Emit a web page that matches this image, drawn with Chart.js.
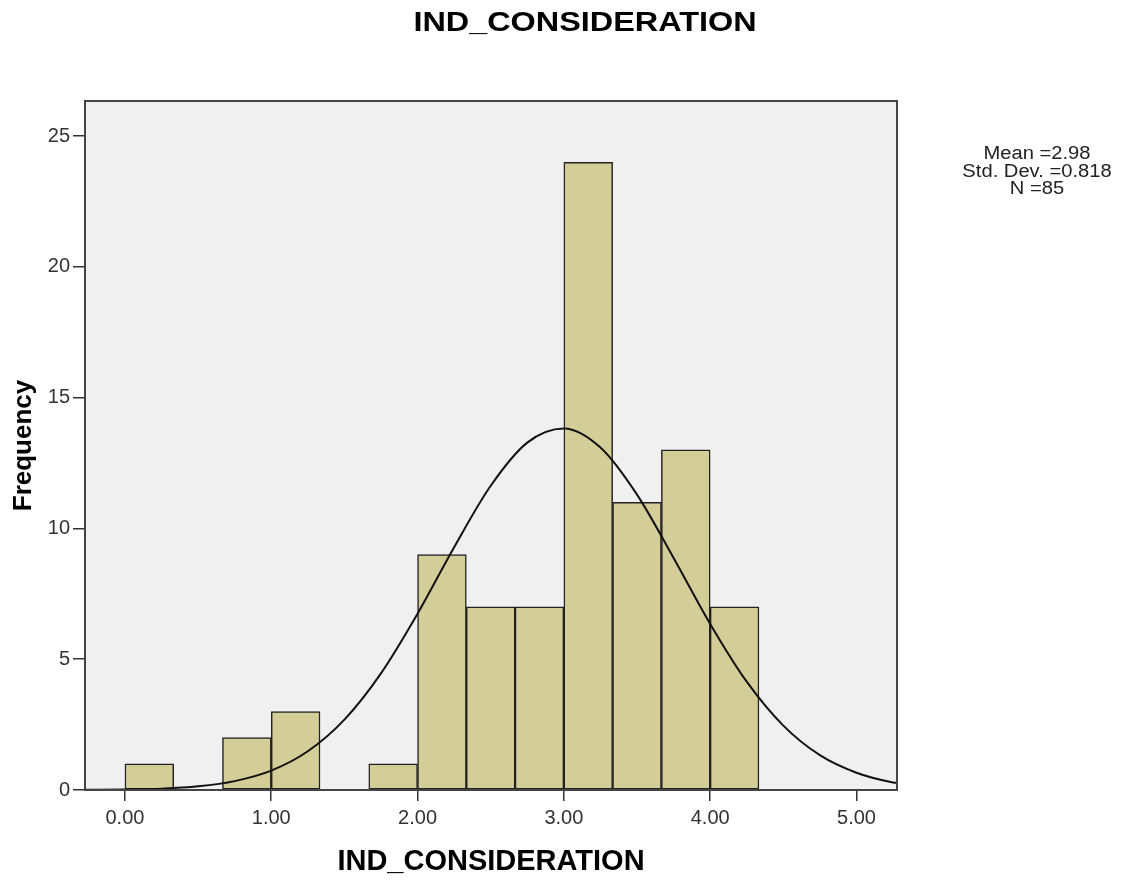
<!DOCTYPE html>
<html>
<head>
<meta charset="utf-8">
<script src="https://cdn.jsdelivr.net/npm/chart.js@4/dist/chart.umd.min.js"></script>
<style>
  body { margin: 0; background: #fff; }
  #wrap { position: relative; width: 1127px; height: 888px; }
  #chart { position: absolute; left: 0; top: 0; }
  .title {
    position: absolute; left: 585px; top: 22px;
    transform: translate(-50%, -50%) scaleX(1.2);
    font: bold 27px "Liberation Sans", Arial, sans-serif; color: #000; white-space: nowrap;
  }
  .stats {
    position: absolute; left: 1037px; top: 145px;
    transform: translateX(-50%) scaleX(1.12);
    font: 18px "Liberation Sans", Arial, sans-serif; line-height: 17.5px;
    color: #222; text-align: center; white-space: nowrap;
  }
</style>
</head>
<body>
<div id="wrap">
  <canvas id="chart" width="1127" height="888"></canvas>
  <div class="title">IND_CONSIDERATION</div>
  <div class="stats">Mean =2.98<br>Std. Dev. =0.818<br>N =85</div>
</div>
<script>
// histogram bins (width 1/3), centre of each bin and its count
const binCenters = [0.1667, 0.8333, 1.1667, 1.8333, 2.1667, 2.5, 2.8333, 3.1667, 3.5, 3.8333, 4.1667];
const binCounts  = [1, 2, 3, 1, 9, 7, 7, 24, 11, 13, 7];

// normal curve
const curveX = [-0.27, -0.25, 0, 0.25, 0.5, 0.75, 1.0, 1.25, 1.5, 1.75, 2.0, 2.25, 2.5, 2.75, 3.0,
                3.25, 3.5, 3.75, 4.0, 4.25, 4.5, 4.75, 5.0, 5.25, 5.28];
const curveY = [0.005, 0.006, 0.02, 0.05, 0.14, 0.34, 0.74, 1.48, 2.69, 4.46, 6.74, 9.28, 11.63, 13.28, 13.82,
                13.09, 11.29, 8.87, 6.35, 4.14, 2.46, 1.33, 0.66, 0.29, 0.27];

const xTicks = [0, 1, 2, 3, 4, 5];
const yTicks = [0, 5, 10, 15, 20, 25];

const plotFrame = {
  id: 'plotFrame',
  beforeDatasetsDraw(chart) {
    const {ctx, chartArea: a} = chart;
    ctx.save();
    ctx.fillStyle = '#f0f0f0';
    ctx.fillRect(a.left, a.top, a.right - a.left, a.bottom - a.top);
    ctx.restore();
  },
  afterDraw(chart) {
    const {ctx, chartArea: a} = chart;
    ctx.save();
    ctx.strokeStyle = '#444';
    ctx.lineWidth = 2;
    ctx.strokeRect(a.left, a.top, a.right - a.left, a.bottom - a.top);
    ctx.restore();
  }
};

new Chart(document.getElementById('chart'), {
  type: 'bar',
  data: {
    datasets: [
      {
        type: 'line',
        data: curveX.map((x, i) => ({x: x, y: curveY[i]})),
        borderColor: '#111',
        borderWidth: 2,
        pointRadius: 0,
        tension: 0.4,
        cubicInterpolationMode: 'monotone',
        order: 0
      },
      {
        type: 'bar',
        data: binCenters.map((x, i) => ({x: x, y: binCounts[i]})),
        backgroundColor: '#d3ce97',
        borderColor: '#222',
        borderWidth: 1.5,
        borderSkipped: false,
        barPercentage: 1,
        categoryPercentage: 1,
        order: 1
      }
    ]
  },
  options: {
    responsive: false,
    animation: false,
    layout: { padding: { left: 0, top: 101, right: 230, bottom: 0 } },
    plugins: { legend: { display: false }, tooltip: { enabled: false } },
    scales: {
      x: {
        type: 'linear',
        min: -0.273,
        max: 5.277,
        offset: false,
        afterBuildTicks: s => { s.ticks = xTicks.map(v => ({value: v})); },
        afterFit: s => { s.height = 98; },
        grid: { offset: false, drawOnChartArea: false, drawTicks: true, tickLength: 11, color: '#333', lineWidth: 1.5 },
        border: { display: false },
        ticks: {
          padding: 5,
          color: '#333',
          font: { family: 'Liberation Sans, Arial', size: 20 },
          callback: v => v.toFixed(2)
        },
        title: {
          display: true,
          text: 'IND_CONSIDERATION',
          color: '#000',
          padding: 9,
          font: { family: 'Liberation Sans, Arial', size: 29, weight: 'bold' }
        }
      },
      y: {
        min: 0,
        max: 26.34,
        afterBuildTicks: s => { s.ticks = yTicks.map(v => ({value: v})); },
        afterFit: s => { s.width = 85; },
        grid: { drawOnChartArea: false, drawTicks: true, tickLength: 12, color: '#333', lineWidth: 1.5 },
        border: { display: false },
        ticks: {
          padding: 3,
          color: '#333',
          font: { family: 'Liberation Sans, Arial', size: 20 }
        },
        title: {
          display: true,
          text: 'Frequency',
          color: '#000',
          padding: 8,
          font: { family: 'Liberation Sans, Arial', size: 26, weight: 'bold' }
        }
      }
    }
  },
  plugins: [plotFrame]
});
</script>
</body>
</html>
